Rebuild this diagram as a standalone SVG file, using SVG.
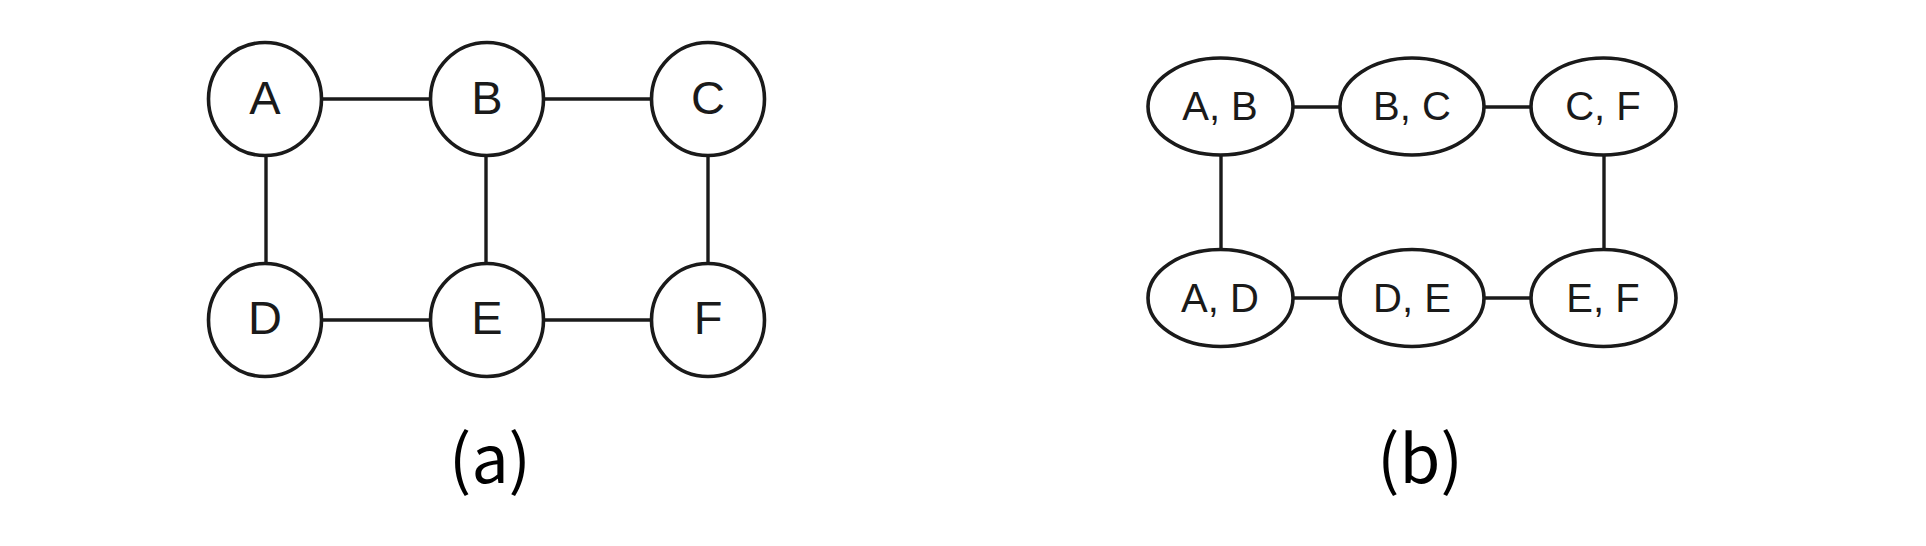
<svg xmlns="http://www.w3.org/2000/svg" width="1926" height="546" viewBox="0 0 1926 546">
<style>
.n{fill:#fff;stroke:#1a1a1a;stroke-width:3.6}
.e{stroke:#1a1a1a;stroke-width:3.4;fill:none}
.t{font-family:"Liberation Sans",Arial,sans-serif;font-size:47px;fill:#1a1a1a;text-anchor:middle;dominant-baseline:central}
.t2{font-family:"Liberation Sans",Arial,sans-serif;font-size:40px;fill:#1a1a1a;text-anchor:middle;dominant-baseline:central}
.cap{font-family:"Noto Sans CJK SC","Noto Sans",sans-serif;font-size:66px;fill:#000;text-anchor:middle}
</style>
<rect width="1926" height="546" fill="#fff"/>
<g id="connectors">
<line class="e" x1="322" y1="99" x2="431" y2="99"/>
<line class="e" x1="543" y1="99" x2="652" y2="99"/>
<line class="e" x1="322" y1="320" x2="431" y2="320"/>
<line class="e" x1="543" y1="320" x2="652" y2="320"/>
<line class="e" x1="266" y1="156" x2="266" y2="263"/>
<line class="e" x1="486" y1="156" x2="486" y2="263"/>
<line class="e" x1="708" y1="156" x2="708" y2="263"/>
<line class="e" x1="1293" y1="107" x2="1340" y2="107"/>
<line class="e" x1="1484" y1="107" x2="1531" y2="107"/>
<line class="e" x1="1293" y1="298" x2="1340" y2="298"/>
<line class="e" x1="1484" y1="298" x2="1531" y2="298"/>
<line class="e" x1="1221" y1="155" x2="1221" y2="250"/>
<line class="e" x1="1604" y1="155" x2="1604" y2="250"/>
</g>
<g id="A"><circle class="n" cx="265" cy="99" r="56.5"/><text class="t" x="265" y="97">A</text></g>
<g id="B"><circle class="n" cx="487" cy="99" r="56.5"/><text class="t" x="487" y="97">B</text></g>
<g id="C"><circle class="n" cx="708" cy="99" r="56.5"/><text class="t" x="708" y="97">C</text></g>
<g id="D"><circle class="n" cx="265" cy="320" r="56.5"/><text class="t" x="265" y="317">D</text></g>
<g id="E"><circle class="n" cx="487" cy="320" r="56.5"/><text class="t" x="487" y="317">E</text></g>
<g id="F"><circle class="n" cx="708" cy="320" r="56.5"/><text class="t" x="708" y="317">F</text></g>
<g id="AB"><ellipse class="n" cx="1220.5" cy="106.5" rx="72.5" ry="48.5"/><text class="t2" x="1220" y="106">A, B</text></g>
<g id="BC"><ellipse class="n" cx="1412" cy="106.5" rx="72" ry="48.5"/><text class="t2" x="1412" y="106">B, C</text></g>
<g id="CF"><ellipse class="n" cx="1603.5" cy="106.5" rx="72.5" ry="48.5"/><text class="t2" x="1603" y="106">C, F</text></g>
<g id="AD"><ellipse class="n" cx="1220.5" cy="298" rx="72.5" ry="48.5"/><text class="t2" x="1220" y="298">A, D</text></g>
<g id="DE"><ellipse class="n" cx="1412" cy="298" rx="72" ry="48.5"/><text class="t2" x="1412" y="298">D, E</text></g>
<g id="EF"><ellipse class="n" cx="1603.5" cy="298" rx="72.5" ry="48.5"/><text class="t2" x="1603" y="298">E, F</text></g>
<text class="cap" x="490" y="483">(a)</text>
<text class="cap" x="1420" y="483">(b)</text>
</svg>
